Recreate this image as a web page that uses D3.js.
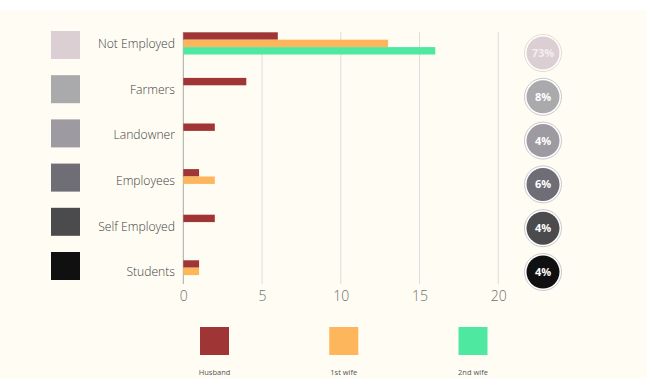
<!DOCTYPE html>
<html>
<head>
<meta charset="utf-8">
<script src="https://cdn.jsdelivr.net/npm/d3@7"></script>
<style>
  html, body { margin: 0; padding: 0; background: #fefcf3; }
  svg { display: block; }
</style>
</head>
<body>
<svg id="chart" width="647" height="378"></svg>
<script>
// Occupation categories and counts per respondent group
const categories = ["Not Employed", "Farmers", "Landowner", "Employees", "Self Employed", "Students"];
const seriesNames = ["Husband", "1st wife", "2nd wife"];
const husband = [6, 4, 2, 1, 2, 1];
const firstWife = [13, 0, 0, 2, 0, 1];
const secondWife = [16, 0, 0, 0, 0, 0];
const shares = ["73%", "8%", "4%", "6%", "4%", "4%"];
const xTicks = [0, 5, 10, 15, 20];

const seriesColors = ["#a03535", "#fdb65b", "#4fe8a1"];
const categoryColors = ["#dccfd3", "#aaa9ac", "#9d9aa2", "#6f6d75", "#4b4a4d", "#101010"];
const shareText = ["#f4eef0", "#fff", "#fff", "#fff", "#fff", "#fff"];

const series = [husband, firstWife, secondWife];
const svg = d3.select("#chart");
const font = "'Open Sans', 'DejaVu Sans', sans-serif";

// white strip along the top edge
svg.append("rect").attr("x", 0).attr("y", 0).attr("width", 647).attr("height", 10).attr("fill", "#ffffff");

const x = d3.scaleLinear().domain([0, 20]).range([183.3, 498.3]);
const y = d3.scaleBand().domain(categories).range([32.3, 282.5]).paddingInner(0.513).paddingOuter(0);
const ySub = d3.scaleBand().domain(d3.range(seriesNames.length)).range([0, y.bandwidth()]);

// vertical grid lines
svg.append("g").selectAll("line").data(xTicks).join("line")
  .attr("x1", d => x(d)).attr("x2", d => x(d))
  .attr("y1", 32).attr("y2", 284)
  .attr("stroke", d => d === 0 ? "#a8a8a8" : "#dcdcdc")
  .attr("stroke-width", 1);

// x tick labels
const xAxis = d3.axisBottom(x).tickValues(xTicks).tickSize(0).tickPadding(0);
const gx = svg.append("g").attr("transform", "translate(0,291)").call(xAxis);
gx.select(".domain").remove();
gx.selectAll("text").attr("font-family", font).attr("font-size", 14).attr("font-weight", 300)
  .attr("fill", "#6f6f6f").attr("dy", "0.71em");

// bars
const groups = svg.append("g").selectAll("g").data(categories).join("g")
  .attr("transform", d => `translate(0,${y(d)})`);
groups.selectAll("rect")
  .data((c, i) => series.map((s, k) => ({ k, v: s[i] })).filter(d => d.v > 0))
  .join("rect")
  .attr("x", x(0))
  .attr("y", d => ySub(d.k))
  .attr("width", d => x(d.v) - x(0))
  .attr("height", ySub.bandwidth())
  .attr("fill", d => seriesColors[d.k]);

// category labels, slightly narrowed horizontally
svg.append("g").selectAll("text").data(categories).join("text")
  .attr("transform", d => `translate(175,${y(d) + y.bandwidth() / 2}) scale(0.9,1)`)
  .attr("dy", "0.36em")
  .attr("text-anchor", "end")
  .attr("font-family", font)
  .attr("font-size", 13.5)
  .attr("font-weight", 300)
  .attr("fill", "#3f3f3f")
  .text(d => d);

// category swatches on the left
const swatchY = d3.scalePoint().domain(categories).range([45, 266]);
svg.append("g").selectAll("rect").data(categories).join("rect")
  .attr("x", 51).attr("y", d => swatchY(d) - 14)
  .attr("width", 29).attr("height", 28)
  .attr("fill", (d, i) => categoryColors[i]);

// share badges on the right
const badgeY = d3.scalePoint().domain(categories).range([53, 272]);
const badges = svg.append("g").selectAll("g").data(categories).join("g")
  .attr("transform", d => `translate(543,${badgeY(d)})`);
badges.append("circle").attr("r", 18.5).attr("fill", "#ffffff")
  .attr("stroke", (d, i) => i === 0 ? "#e6dccc" : "#c9c9cc").attr("stroke-width", 1);
badges.append("circle").attr("r", 16.5).attr("fill", (d, i) => categoryColors[i]);
badges.append("text")
  .attr("text-anchor", "middle").attr("dy", "0.36em")
  .attr("font-family", font).attr("font-size", 11).attr("font-weight", 700)
  .attr("fill", (d, i) => shareText[i])
  .text((d, i) => shares[i]);

// series legend at the bottom
const legendX = d3.scalePoint().domain(seriesNames).range([214.5, 473]);
const legend = svg.append("g").selectAll("g").data(seriesNames).join("g")
  .attr("transform", d => `translate(${legendX(d)},0)`);
legend.append("rect").attr("x", -14.5).attr("y", 327).attr("width", 29).attr("height", 28)
  .attr("fill", (d, i) => seriesColors[i]);
legend.append("text").attr("y", 375).attr("text-anchor", "middle")
  .attr("font-family", font).attr("font-size", 7.5).attr("fill", "#555")
  .text(d => d);
</script>
</body>
</html>
